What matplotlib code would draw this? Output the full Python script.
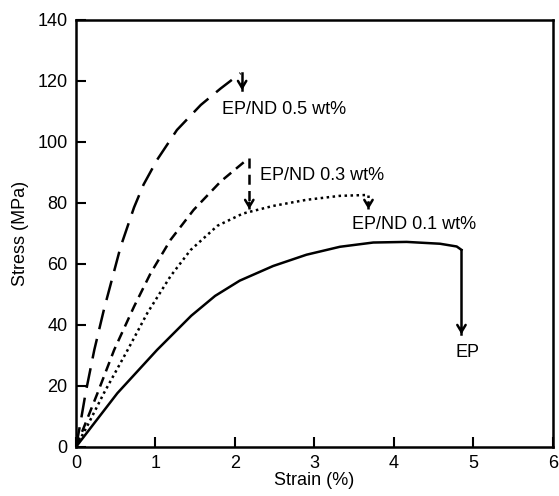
import numpy as np
import matplotlib.pyplot as plt

plt.rcParams['font.family'] = ['Liberation Sans', 'DejaVu Sans']

# Stress-strain curves
strain_ep = [0, 0.23, 0.52, 1.02, 1.45, 1.75, 2.06, 2.48, 2.9, 3.32, 3.74, 4.16, 4.58, 4.79, 4.85]
stress_ep = [0, 7.8, 17.6, 31.8, 43, 49.5, 54.5, 59.3, 63, 65.6, 67, 67.2, 66.6, 65.7, 64.6]

strain_01 = [0, 0.16, 0.35, 0.65, 0.9, 1.19, 1.44, 1.78, 2.1, 2.48, 2.9, 3.32, 3.68]
stress_01 = [0, 7.8, 17.6, 31.8, 44, 56, 64.5, 72.5, 76.5, 79, 81, 82.3, 82.6]

strain_03 = [0, 0.12, 0.27, 0.48, 0.73, 0.94, 1.19, 1.48, 1.82, 2.17]
stress_03 = [0, 7.8, 17.6, 31.8, 46, 57, 67.9, 77.7, 87, 94.6]

strain_05 = [0, 0.06, 0.12, 0.23, 0.35, 0.56, 0.73, 0.85, 1.02, 1.27, 1.57, 1.82, 2.07]
stress_05 = [0, 8.5, 17.6, 31.8, 44.9, 65.5, 78.5, 86, 94.1, 103.9, 112.1, 117.5, 122.5]

# failure arrows: x, start stress, end stress
arrow_x = [4.85, 3.68, 2.18, 2.09]
arrow_top = [64.6, 82.6, 94.6, 122.5]
arrow_bot = [36, 77, 77, 116]

labels = ['EP', 'EP/ND 0.1 wt%', 'EP/ND 0.3 wt%', 'EP/ND 0.5 wt%']
label_x = [4.77, 3.47, 2.31, 1.84]
label_y = [31, 73, 89, 110.5]

styles = ['-', (0, (1, 1.4)), (0, (4, 2.5)), (0, (8, 4))]
arrow_styles = ['-', (0, (1, 1.4)), (0, (4, 2.5)), '-']

fig = plt.figure(figsize=(5.59, 4.96), dpi=100)
ax = fig.add_axes([0.136, 0.099, 0.853, 0.861])

curves = [(strain_ep, stress_ep), (strain_01, stress_01),
          (strain_03, stress_03), (strain_05, stress_05)]
for (xs, ys), ls in zip(curves, styles):
    ax.plot(xs, ys, color='black', lw=1.8, linestyle=ls,
            solid_joinstyle='round', dash_joinstyle='round')

for xa, yt, yb, ls in zip(arrow_x, arrow_top, arrow_bot, arrow_styles):
    ax.plot([xa, xa], [yt, yb + 1], color='black', lw=1.8, linestyle=ls)
    ax.annotate('', xy=(xa, yb), xytext=(xa, yb + 4),
                arrowprops=dict(arrowstyle='->,head_width=0.3,head_length=0.5',
                                color='black', lw=1.8))

for lab, lx, ly in zip(labels, label_x, label_y):
    ax.text(lx, ly, lab, fontsize=13, va='center', ha='left')

ax.set_xlim(0, 6)
ax.set_ylim(0, 140)
ax.set_xticks(range(0, 7))
ax.set_yticks(range(0, 141, 20))
ax.tick_params(direction='in', length=7, width=1.5, labelsize=13, pad=6)
for s in ax.spines.values():
    s.set_linewidth(1.8)
ax.set_xlabel('Strain (%)', fontsize=13, labelpad=0)
ax.set_ylabel('Stress (MPa)', fontsize=13, labelpad=6)

fig.savefig('out.png', dpi=100)
